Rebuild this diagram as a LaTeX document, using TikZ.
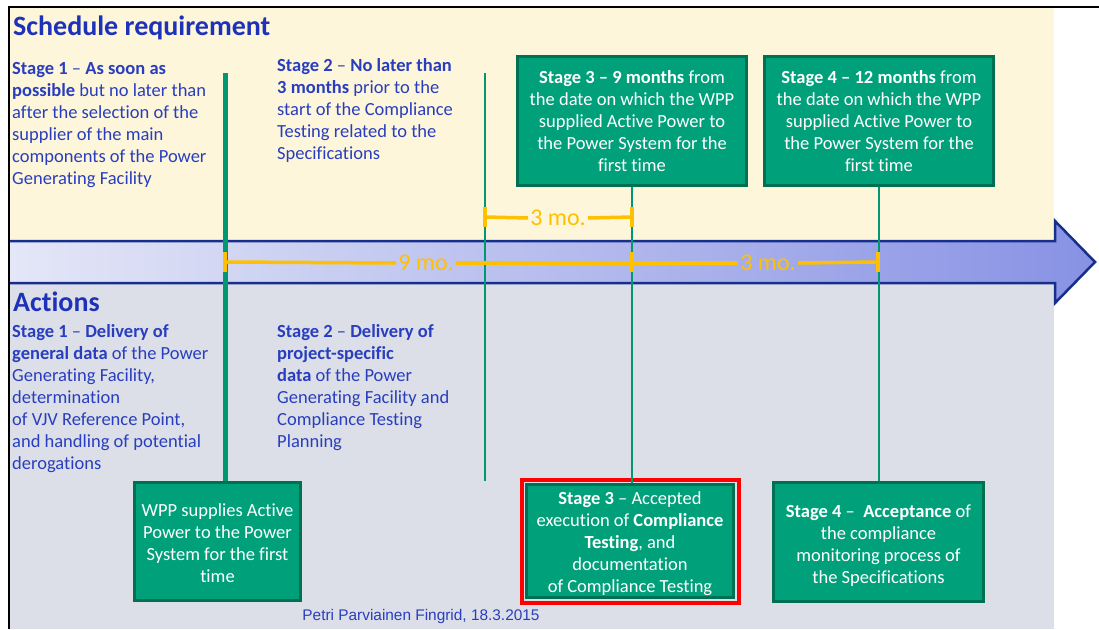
\documentclass[tikz,border=0pt]{standalone}
\usepackage{fontspec}
\setmainfont{Carlito}[Ligatures={NoCommon}]
\newfontfamily\arialf{Liberation Sans}
\definecolor{bgyel}{RGB}{254,246,218}
\definecolor{bggray}{RGB}{220,223,231}
\definecolor{tblue}{RGB}{40,62,190}
\definecolor{ttitle}{RGB}{30,50,185}
\definecolor{gfill}{RGB}{0,161,122}
\definecolor{gdark}{RGB}{0,112,82}
\definecolor{gline}{RGB}{0,152,112}
\definecolor{ylw}{RGB}{255,192,0}
\definecolor{anavy}{RGB}{22,46,140}
\definecolor{aleft}{RGB}{228,231,247}
\definecolor{aright}{RGB}{136,146,228}
\tikzset{
  body/.style={font=\fontsize{18.5}{22}\selectfont, text=tblue, align=left, anchor=north west, inner sep=0pt},
  title/.style={font=\fontsize{28}{30}\selectfont\bfseries, text=ttitle, anchor=base west, inner sep=0pt},
  gbox/.style={draw=gdark, line width=3pt, fill=gfill, text=white, align=center, inner sep=0pt,
    font=\fontsize{18.5}{22}\selectfont},
  vthick/.style={draw=gline, line width=5pt},
  vthin/.style={draw=gline, line width=2.8pt},
  dim/.style={draw=ylw, line width=3.5pt},
  lbl/.style={text=ylw, font=\fontsize{24}{26}\selectfont, inner sep=2pt},
}
\begin{document}
\begin{tikzpicture}[x=1pt,y=-1pt]
\useasboundingbox (0,0) rectangle (1099,629);
\fill[white] (0,0) rectangle (1099,629);
\fill[bgyel] (9,7) rectangle (1054,241);
\fill[bggray] (9,283) rectangle (1054,629);
% arrow
\fill[left color=aleft, right color=aright] (9,241) -- (1055,241) -- (1055,221) -- (1095,262) -- (1055,303) -- (1055,283) -- (9,283) -- cycle;
\draw[anavy, line width=2.5pt, line join=miter] (9,241) -- (1055,241) -- (1055,221) -- (1095,262) -- (1055,303) -- (1055,283) -- (9,283);
% frame
\draw[black, line width=2pt] (9,629) -- (9,6.5) -- (1099,6.5);
% titles
\node[title] (ttl1) at (13,35) {Schedule requirement};
\node[title] (ttl2) at (13,311) {Actions};
% texts
\node[body] (r1) at (12,62) {\textbf{Stage 1} – \textbf{As soon as}\\\textbf{possible} but no later than\\after the selection of the\\supplier of the main\\components of the Power\\Generating Facility};
\node[body] (r2) at (277,58) {\textbf{Stage 2} – \textbf{No later than}\\\textbf{3 months} prior to the\\start of the Compliance\\Testing related to the\\Specifications};
\node[body] (a1) at (12,324) {\textbf{Stage 1} – \textbf{Delivery of}\\\textbf{general data} of the Power\\Generating Facility,\\determination\\of VJV Reference Point,\\and handling of potential\\derogations};
\node[body] (a2) at (277,324) {\textbf{Stage 2} – \textbf{Delivery of}\\\textbf{project-specific}\\\textbf{data} of the Power\\Generating Facility and\\Compliance Testing\\Planning};
% boxes
\node[gbox, minimum width=229pt, minimum height=129pt] (t3) at (632,121) {\textbf{Stage 3 – 9 months} from\\the date on which the WPP\\supplied Active Power to\\the Power System for the\\first time};
\node[gbox, minimum width=229pt, minimum height=129pt] (t4) at (879,121) {\textbf{Stage 4 – 12 months} from\\the date on which the WPP\\supplied Active Power to\\the Power System for the\\first time};
\node[gbox, minimum width=166pt, minimum height=118pt] (wpp) at (217.5,541.5) {\rule{0pt}{17pt}WPP supplies Active\\Power to the Power\\System for the first\\time};
\node[gbox, minimum width=207pt, minimum height=113pt] (b3) at (630,541) {\rule{0pt}{19pt}\textbf{Stage 3} – Accepted\\execution of \textbf{Compliance}\\\textbf{Testing}, and\\documentation\\of Compliance Testing};
\draw[red, line width=4pt] ([shift={(-3.5pt,3.5pt)}]b3.north west) rectangle ([shift={(3.5pt,-3.5pt)}]b3.south east);
\node[gbox, minimum width=210pt, minimum height=119pt] (b4) at (878.5,542) {\rule{0pt}{19pt}\textbf{Stage 4} –\ \ \textbf{Acceptance} of\\the compliance\\monitoring process of\\the Specifications};
% vertical lines
\coordinate (s1top) at (225,73);
\coordinate (s2top) at (485,73);
\coordinate (s2bot) at (485,481);
\draw[vthick] (s1top) -- (s1top |- wpp.north);
\draw[vthin] (s2top) -- (s2bot);
\draw[vthin] (t3.south) -- (t3.south |- b3.north);
\draw[vthin] (t4.south) -- (t4.south |- b4.north);
% dimension lines
\node[lbl] (u3) at (558,218) {3 mo.};
\node[lbl] (l9) at (426,263) {9 mo.};
\node[lbl] (l3) at (768,263) {3 mo.};
\coordinate (ua) at (485,217);
\coordinate (ub) at (632,217);
\coordinate (la) at (225,262);
\coordinate (lb) at (632,262);
\coordinate (lc) at (878,262);
\draw[dim] (ua) -- (u3.west);
\draw[dim] (u3.east) -- (ub);
\draw[dim] (la) -- (l9.west);
\draw[dim] (l9.east) -- (l3.west);
\draw[dim] (l3.east) -- (lc);
\foreach \p in {ua,ub,la,lb,lc}{
  \draw[dim] ([yshift=10pt]\p) -- ([yshift=-10pt]\p);
}
% footer
\node[font=\arialf\fontsize{15.4}{17}\selectfont, text=tblue, inner sep=0pt, anchor=base] (ft) at (421,620) {Petri Parviainen Fingrid, 18.3.2015};
\end{tikzpicture}
\end{document}
